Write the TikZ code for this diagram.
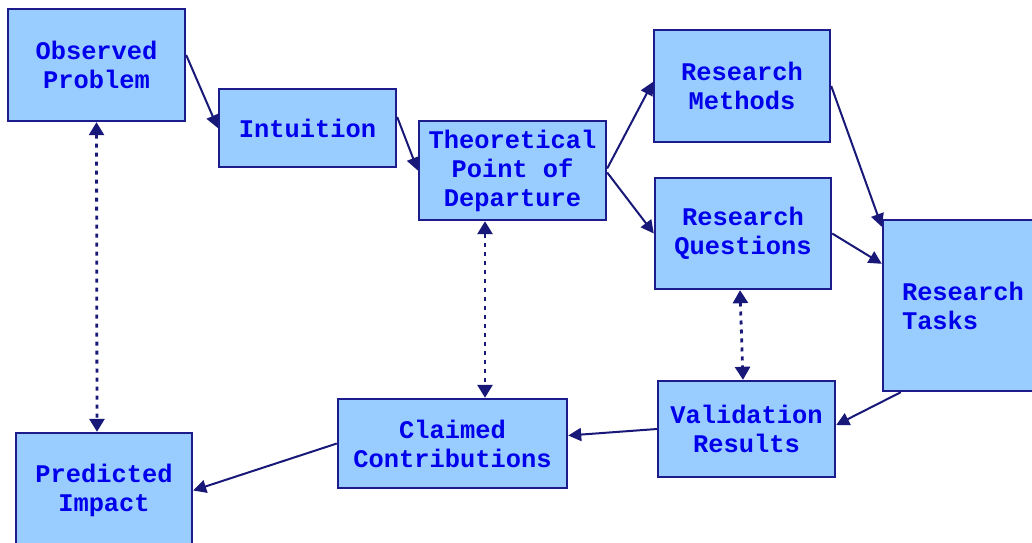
\documentclass[tikz,border=0pt]{standalone}
\usepackage{fontspec}
\usetikzlibrary{arrows.meta}
\newfontfamily\boxfont{Liberation Mono}
\definecolor{boxfill}{RGB}{153,204,255}
\definecolor{boxline}{RGB}{28,28,140}
\definecolor{boxtext}{RGB}{0,0,235}
\definecolor{flow}{RGB}{24,24,120}
\tikzset{
  stage/.style={draw=boxline, line width=2.4pt, fill=boxfill, rectangle,
    align=center, inner sep=0pt, text=boxtext,
    font=\boxfont\bfseries\fontsize{25.4}{29}\selectfont},
  flowarrow/.style={draw=flow, line width=2pt,
    -{Triangle[length=13pt,width=13pt]}},
  linkarrow/.style={draw=flow, line width=2.8pt, dash pattern=on 4pt off 5pt,
    {Triangle[length=13pt,width=15pt]}-{Triangle[length=13pt,width=15pt]}}
}
\begin{document}
\begin{tikzpicture}[x=1pt,y=-1pt]
\useasboundingbox (0,0) rectangle (1032,542);
\clip (0,0) rectangle (1032,542);

% stages of the research process
\node[stage, minimum width=177pt, minimum height=112pt] (obs)   at (96.5,65)   {Observed\\Problem};
\node[stage, minimum width=177pt, minimum height=78pt]  (intu)  at (307.5,128) {Intuition};
\node[stage, minimum width=187pt, minimum height=99pt]  (theo)  at (512.5,170.5) {Theoretical\\Point of\\Departure};
\node[stage, minimum width=176pt, minimum height=112pt] (meth)  at (742,86)    {Research\\Methods};
\node[stage, minimum width=176pt, minimum height=111pt] (ques)  at (743,233.5) {Research\\Questions};
\node[stage, minimum height=171pt, text width=129pt, inner xsep=19pt, align=left] (tasks) at (966.5,305.5) {Research\\Tasks};
\node[stage, minimum width=177pt, minimum height=96pt]  (vali)  at (746.5,429) {Validation\\Results};
\node[stage, minimum width=229pt, minimum height=89pt]  (claim) at (452.5,443.5) {Claimed\\Contributions};
\node[stage, minimum width=176pt, minimum height=115pt] (pred)  at (104,490.5) {Predicted\\Impact};

% main flow
\draw[flowarrow] ([yshift=10pt]obs.east) -- (intu.west);
\draw[flowarrow] ([yshift=11pt]intu.east) -- (theo.west);
\draw[flowarrow] ([yshift=2pt]theo.east) -- ([yshift=4pt]meth.west);
\draw[flowarrow] ([yshift=-2pt]theo.east) -- (ques.west);
\draw[flowarrow] (meth.east) -- ([yshift=-8pt]tasks.north west);
\draw[flowarrow] (ques.east) -- ([yshift=-45pt]tasks.north west);
\draw[flowarrow] ([xshift=19pt]tasks.south west) -- ([yshift=4pt]vali.east);
\draw[flowarrow] (vali.west) -- ([yshift=8pt]claim.east);
\draw[flowarrow] (claim.west) -- (pred.east);

% correspondences
\draw[linkarrow] (obs.south) -- ([xshift=-7pt]pred.north);
\draw[linkarrow] ([xshift=-27.5pt]theo.south) -- ([xshift=32.5pt]claim.north);
\draw[linkarrow] ([xshift=-3pt]ques.south) -- ([xshift=-3.5pt]vali.north);
\end{tikzpicture}
\end{document}
